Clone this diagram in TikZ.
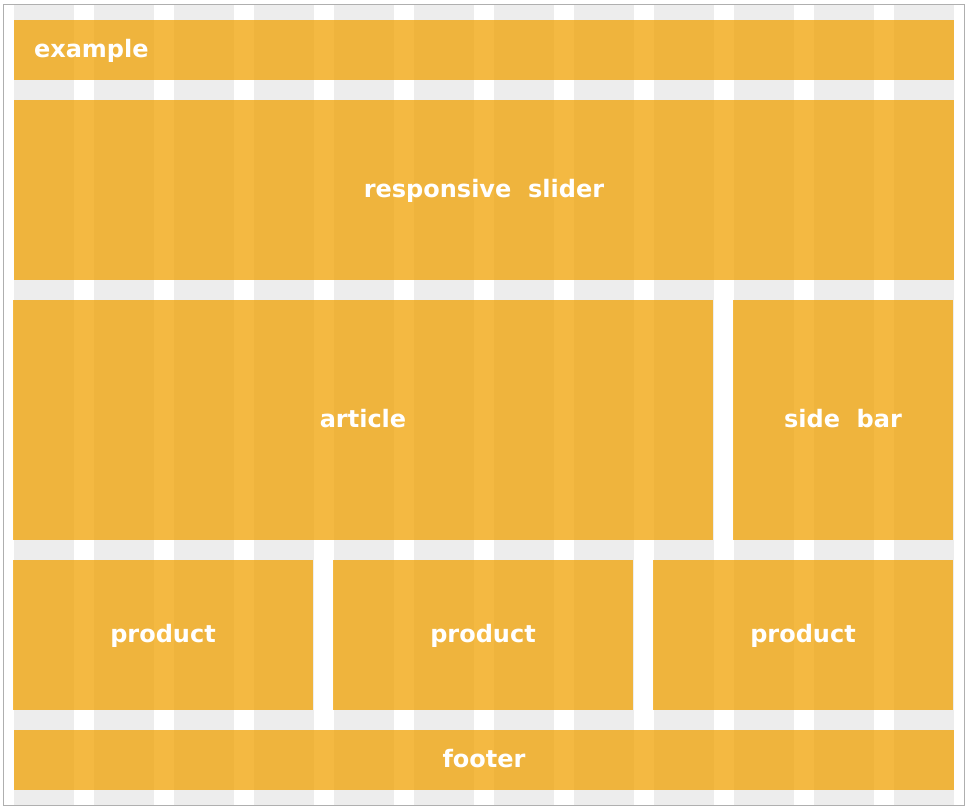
\documentclass[tikz,border=0pt]{standalone}
\usepackage{fontspec}
\setmainfont{DejaVu Sans}
\definecolor{gridgray}{RGB}{237,237,237}
\definecolor{bordergray}{RGB}{175,175,175}
\definecolor{boxorange}{RGB}{241,161,0}
\tikzset{
  box/.style={fill=boxorange, fill opacity=0.74, text opacity=1, text=white,
    inner sep=0pt, text height=18pt, text depth=3.4pt,
    font=\fontsize{24}{28}\selectfont\bfseries},
  gridcol/.style={fill=gridgray, draw=none}
}
\begin{document}
\begin{tikzpicture}[x=1pt,y=-1pt]
\useasboundingbox (0,0) rectangle (969,810);
\fill[white] (0,0) rectangle (969,810);
% grid columns
\foreach \k in {0,...,11} {
  \fill[gridcol] ({14+80*\k},4.5) rectangle ({74+80*\k},805);
}
\draw[bordergray, line width=1.3pt] (3.5,4.5) rectangle (964.5,805.5);
% boxes
\node[box, text width=900pt, inner xsep=20pt, align=left, minimum height=60pt] (example) at (484,50) {example};
\node[box, minimum width=940pt, minimum height=180pt] (slider) at (484,190) {responsive\ \ slider};
\node[box, minimum width=700pt, minimum height=240pt] (article) at (363,420) {article};
\node[box, minimum width=220pt, minimum height=240pt] (sidebar) at (843,420) {side\ \ bar};
\node[box, minimum width=300pt, minimum height=150pt] (prod1) at (163,635) {product};
\node[box, minimum width=300pt, minimum height=150pt] (prod2) at (483,635) {product};
\node[box, minimum width=300pt, minimum height=150pt] (prod3) at (803,635) {product};
\node[box, minimum width=940pt, minimum height=60pt] (footer) at (484,760) {footer};
\end{tikzpicture}
\end{document}
